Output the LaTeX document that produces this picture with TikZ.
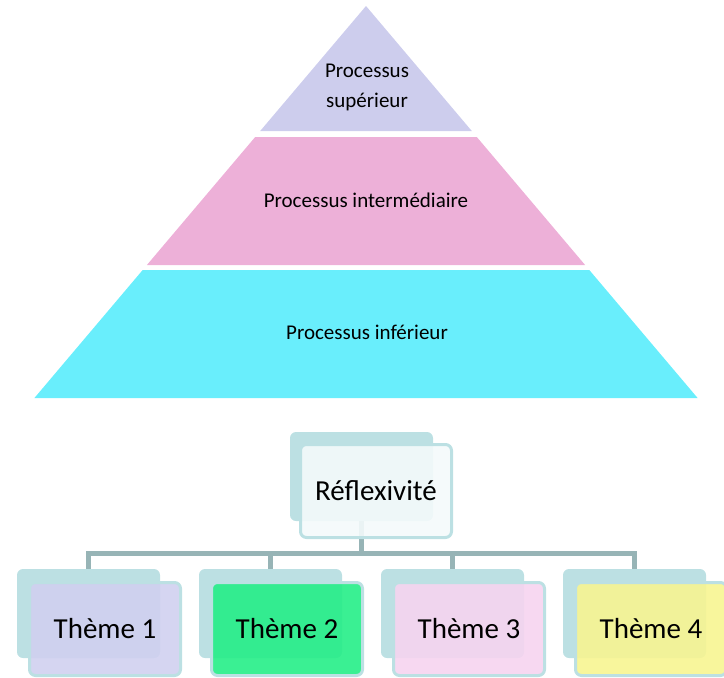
\documentclass[tikz,border=0pt]{standalone}
\usepackage{fontspec}
\setmainfont{Carlito}
\usetikzlibrary{calc}

\definecolor{toplvl}{RGB}{205,205,237}
\definecolor{midlvl}{RGB}{237,176,216}
\definecolor{botlvl}{RGB}{105,238,252}
\definecolor{boxteal}{RGB}{188,224,227}
\definecolor{linkgrey}{RGB}{151,180,182}
\definecolor{reflfill}{RGB}{244,250,251}
\definecolor{themeA}{RGB}{208,208,240}
\definecolor{themeB}{RGB}{37,238,135}
\definecolor{themeC}{RGB}{246,212,240}
\definecolor{themeD}{RGB}{247,245,145}

\tikzset{
  backbox/.style={fill=boxteal, rounded corners=6pt, minimum width=143pt, minimum height=89pt, inner sep=0pt},
  frontbox/.style={draw=boxteal, line width=3pt, fill opacity=0.9, text opacity=1, rounded corners=6pt,
    minimum width=151pt, minimum height=93pt, inner sep=0pt, font=\fontsize{29}{34}\selectfont},
  link/.style={draw=linkgrey, line width=5pt},
  lvltext/.style={font=\fontsize{21}{30}\selectfont, align=center}
}

\begin{document}
\begin{tikzpicture}[x=1pt, y=-1pt]
            \useasboundingbox (0,0) rectangle (724,678);
            
            \fill[toplvl] (366,6) -- (471.8,131) -- (260.2,131) -- cycle;
            \fill[midlvl] (255.2,137) -- (476.8,137) -- (585.1,265) -- (146.9,265) -- cycle;
            \fill[botlvl] (142.7,270) -- (589.3,270) -- (697.6,398) -- (34.4,398) -- cycle;
            
            \node[lvltext] (sup) at (367,87) {Processus\\supérieur};
            \node[lvltext, anchor=base] (inter) at (366,207) {Processus intermédiaire};
            \node[lvltext, anchor=base] (inf) at (367,339) {Processus inférieur};
            
            \node[backbox] (rb) at (361.5,476.5) {};
            \coordinate (bar) at (361.5,553);
            \foreach \i/\x in {1/88.5, 2/270.5, 3/452.5, 4/634.5} {
                \node[backbox] (b\i) at (\x,613.5) {};
                \draw[link] (bar) -| (b\i.north);
            }
            \draw[link] (rb.south) -- (bar);
            
            \node[frontbox, fill=reflfill] (refl) at (376,491) {Réflexivité};
            \foreach \i/\x/\c in {1/88.5/themeA, 2/270.5/themeB, 3/452.5/themeC, 4/634.5/themeD} {
                \node[frontbox, fill=\c] (t\i) at (\x+16.5,629) {Thème \i};
            }
        
        \end{tikzpicture}
\end{document}
